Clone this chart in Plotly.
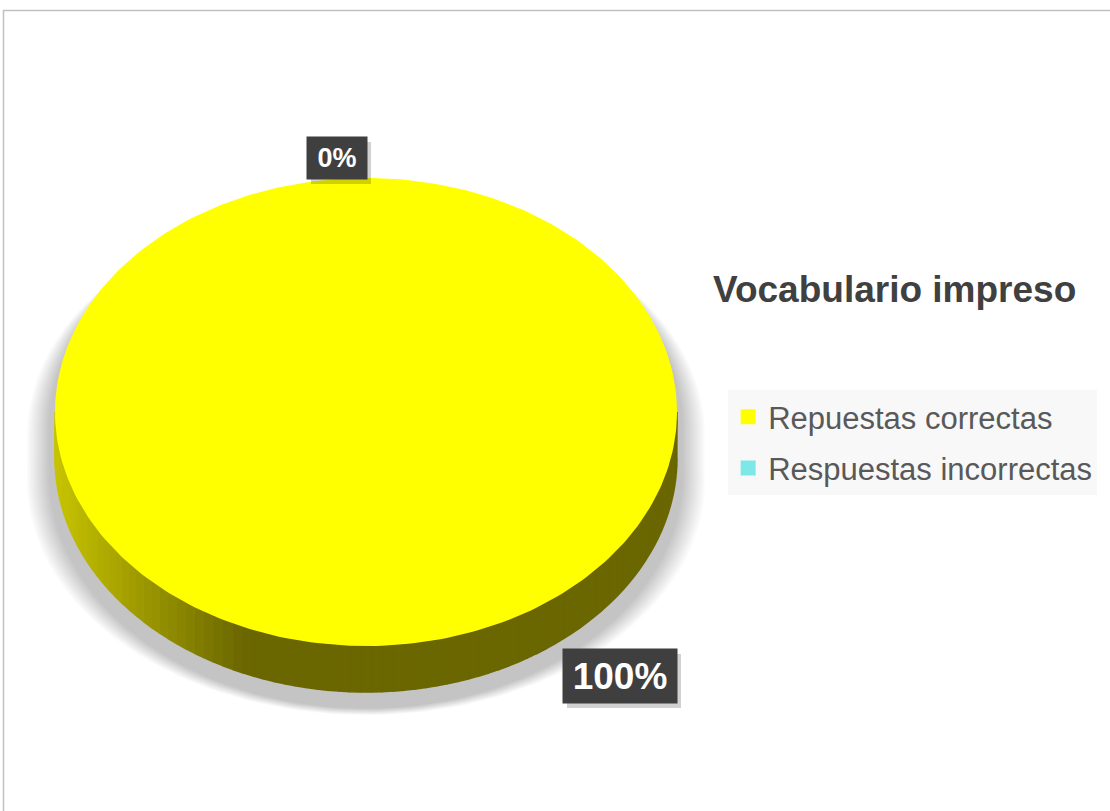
import numpy as np
import plotly.graph_objects as go

# data
categories = ["Repuestas correctas", "Respuestas incorrectas"]
values = [100, 0]
colors = ["#ffff00", "#7ee8e8"]
pct_labels = ["100%", "0%"]
chart_title = "Vocabulario impreso"

# pie geometry (pixel space, y down)
cx, cy, rx, ry, depth = 366, 412, 311, 234, 46

fig = go.Figure()

total = sum(values)
fracs = [v / total for v in values]
starts = np.cumsum([0] + fracs[:-1])


def rim(phi, yoff=0.0, ex=0.0, ey=0.0, cxx=cx, cyy=cy):
    return cxx + (rx + ex) * np.sin(phi), cyy + yoff - (ry + ey) * np.cos(phi)


# soft shadow under the pie
for k in range(24, 0, -2):
    ph = np.linspace(0, 2 * np.pi, 200)
    xs, ys = [], []
    for p in ph:
        x, y = rim(p, ex=k + 4, ey=0, cyy=cy + 16 + k * 0.3)
        if np.cos(p) < 0:
            y += depth
        xs.append(x)
        ys.append(y)
    fig.add_trace(go.Scatter(x=xs, y=ys, fill="toself", mode="lines", line=dict(width=0),
                             fillcolor="rgba(0,0,0,0.018)", hoverinfo="skip", showlegend=False))


def wall_color(x):
    # light at the left edge, dark olive towards the centre/right
    t = np.clip((x - 55) / 190.0, 0, 1)
    c0 = np.array([200, 196, 0])
    c1 = np.array([106, 102, 0])
    c = c0 + (c1 - c0) * t
    return "rgb(%d,%d,%d)" % tuple(c.astype(int))


# side wall (front half) for each slice
for f, s, col in zip(fracs, starts, colors):
    if f <= 0:
        continue
    a0 = max(s * 2 * np.pi, np.pi / 2)
    a1 = min((s + f) * 2 * np.pi, 3 * np.pi / 2)
    if a1 <= a0:
        continue
    edges = np.linspace(a0, a1, 90)
    for e0, e1 in zip(edges[:-1], edges[1:]):
        ph = np.linspace(e0, e1, 4)
        xt, yt = rim(ph)
        xb, yb = rim(ph[::-1], yoff=depth)
        xm = float(np.mean(xt))
        fig.add_trace(go.Scatter(x=list(xt) + list(xb), y=list(yt) + list(yb), fill="toself",
                                 mode="lines", line=dict(width=1.5, color=wall_color(xm)),
                                 fillcolor=wall_color(xm), hoverinfo="skip", showlegend=False))

# top face of each slice
for f, s, col in zip(fracs, starts, colors):
    if f <= 0:
        continue
    ph = np.linspace(s * 2 * np.pi, (s + f) * 2 * np.pi, 300)
    xt, yt = rim(ph)
    fig.add_trace(go.Scatter(x=[cx] + list(xt) + [cx], y=[cy] + list(yt) + [cy], fill="toself",
                             mode="lines", line=dict(width=0), fillcolor=col,
                             hoverinfo="skip", showlegend=False))

# legend entries
for i, (name, col) in enumerate(zip(categories, colors)):
    fig.add_trace(go.Scatter(x=[None], y=[None], mode="markers", name=name, legendgroup=str(i),
                             marker=dict(symbol="square", size=15, color=col)))

# data labels: (centre x, centre y, font size, half width, half height)
label_pos = {"100%": (620, 676, 37, 57, 27), "0%": (337, 158, 27, 30, 21)}
for lab in pct_labels:
    x, y, size, hw, hh = label_pos[lab]
    fig.add_shape(type="rect", x0=x - hw + 4, x1=x + hw + 4, y0=y - hh + 5, y1=y + hh + 5,
                  fillcolor="rgba(0,0,0,0.18)", line=dict(width=0), layer="above")
    fig.add_annotation(x=x, y=y, text="<b>%s</b>" % lab, showarrow=False,
                       width=2 * hw, height=2 * hh,
                       font=dict(size=size, color="white", family="Liberation Sans, Arial"),
                       bgcolor="#3f3f3f", borderpad=0)

fig.add_annotation(x=711, y=289, xanchor="left", text="<b>%s</b>" % chart_title, showarrow=False,
                   font=dict(size=37, color="#404040", family="Liberation Sans, Arial"))

fig.add_shape(type="rect", x0=3.5, y0=10.5, x1=1120, y1=830,
              line=dict(color="#c0c0c0", width=1.5))

fig.update_layout(
    width=1110, height=811,
    margin=dict(l=0, r=0, t=0, b=0),
    paper_bgcolor="white", plot_bgcolor="white",
    xaxis=dict(range=[0, 1110], visible=False, fixedrange=True),
    yaxis=dict(range=[811, 0], visible=False, fixedrange=True),
    legend=dict(x=0.656, y=0.519, xanchor="left", yanchor="top",
                bgcolor="#f8f8f8", tracegroupgap=8,
                font=dict(size=31, color="#595959", family="Liberation Sans, Arial")),
    showlegend=True,
)

fig.write_html("out.html", config={"displayModeBar": False},
               post_script="document.body.style.margin='0px';")
